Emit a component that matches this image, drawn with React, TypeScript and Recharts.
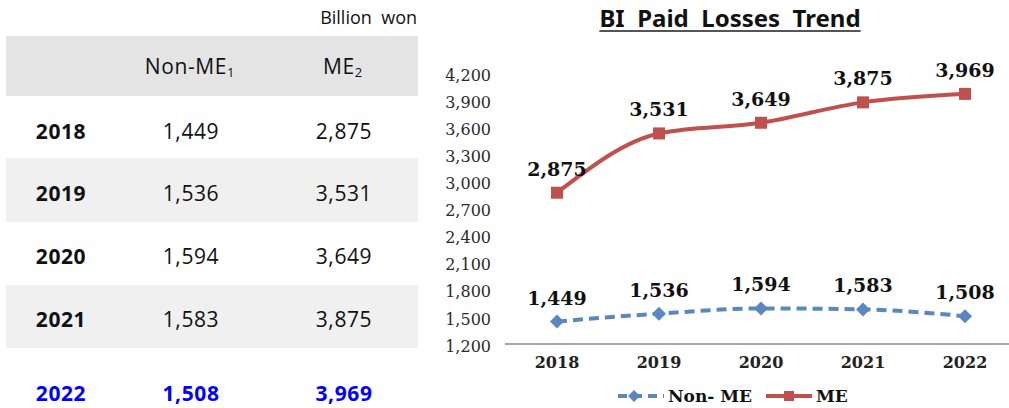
import React from "react"
import { LineChart, Line, XAxis, YAxis, LabelList } from "recharts"

const years = ["2018", "2019", "2020", "2021", "2022"]
const nonMe = [1449, 1536, 1594, 1583, 1508]
const me = [2875, 3531, 3649, 3875, 3969]
const yTicks = [1200, 1500, 1800, 2100, 2400, 2700, 3000, 3300, 3600, 3900, 4200]

const data = years.map((year, i) => ({ year, nonMe: nonMe[i], me: me[i] }))

const fmt = (v: number) => v.toLocaleString("en-US")

const RED = "#c0504d"
const BLUE = "#5b87c0"
const SERIF = "'DejaVu Serif', serif"
const SANS = "'Open Sans', sans-serif"

function SquareDot(props: any) {
  const { cx, cy } = props
  if (cx == null || cy == null) return null
  return <rect x={cx - 6} y={cy - 6} width={12} height={12} fill={RED} />
}

function DiamondDot(props: any) {
  const { cx, cy } = props
  if (cx == null || cy == null) return null
  return (
    <polygon
      points={`${cx},${cy - 7} ${cx + 7},${cy} ${cx},${cy + 7} ${cx - 7},${cy}`}
      fill={BLUE}
    />
  )
}

// table text centres
const rowCenters = [131, 193, 256, 319, 393]
const shadedRows = [[158, 222], [285, 348]]

function Table() {
  const cell = (text: React.ReactNode, x: number, y: number, style: React.CSSProperties = {}) => (
    <div
      style={{
        position: "absolute",
        left: x - 80,
        width: 160,
        top: y - 15,
        height: 30,
        lineHeight: "30px",
        textAlign: "center",
        fontFamily: SANS,
        fontSize: 21,
        letterSpacing: 0.6,
        color: "#111",
        ...style,
      }}
    >
      {text}
    </div>
  )
  return (
    <>
      <div
        style={{
          position: "absolute",
          right: 1009 - 417,
          top: 5,
          fontFamily: SANS,
          fontSize: 18,
          whiteSpace: "pre",
          color: "#111",
        }}
      >
        {"Billion  won"}
      </div>
      <div style={{ position: "absolute", left: 6, top: 36, width: 412, height: 60, background: "#e4e4e4" }} />
      {shadedRows.map(([a, b]) => (
        <div key={a} style={{ position: "absolute", left: 6, top: a, width: 412, height: b - a, background: "#f0f0f0" }} />
      ))}
      {cell(<span>Non-ME<sub style={{ fontSize: 13, verticalAlign: "-3px" }}>1</sub></span>, 190, 66)}
      {cell(<span>ME<sub style={{ fontSize: 13, verticalAlign: "-3px" }}>2</sub></span>, 343, 66)}
      {years.map((y, i) => {
        const last = i === years.length - 1
        const color = last ? "#0000ff" : "#111"
        const weight = last ? 700 : 400
        return (
          <React.Fragment key={y}>
            {cell(y, 61, rowCenters[i], { fontWeight: 700, color })}
            {cell(fmt(nonMe[i]), 191, rowCenters[i], { fontWeight: weight, color })}
            {cell(fmt(me[i]), 344, rowCenters[i], { fontWeight: weight, color })}
          </React.Fragment>
        )
      })}
    </>
  )
}

function LegendBox() {
  const txt: React.CSSProperties = { fontFamily: SERIF, fontWeight: 700, fontSize: 17, color: "#111" }
  return (
    <div style={{ position: "absolute", left: 616, top: 385, display: "flex", alignItems: "center", height: 22 }}>
      <svg width={50} height={16}>
        <line x1={2} y1={8} x2={48} y2={8} stroke={BLUE} strokeWidth={4} strokeDasharray="9 6" />
        <polygon points="18,2 24,8 18,14 12,8" fill={BLUE} />
      </svg>
      <span style={{ ...txt, marginLeft: 2, whiteSpace: "pre" }}>{"Non- ME"}</span>
      <svg width={50} height={16} style={{ marginLeft: 12 }}>
        <line x1={2} y1={8} x2={48} y2={8} stroke={RED} strokeWidth={4} />
        <rect x={20} y={3} width={10} height={10} fill={RED} />
      </svg>
      <span style={{ ...txt, marginLeft: 2 }}>ME</span>
    </div>
  )
}

export default function App() {
  return (
    <div style={{ position: "absolute", left: 0, top: 0, width: 1009, height: 408, background: "#fff", overflow: "hidden" }}>
      <Table />
      <div
        style={{
          position: "absolute",
          left: 420,
          width: 620,
          top: 1,
          textAlign: "center",
          fontFamily: "'Noto Sans', sans-serif",
          fontWeight: 700,
          fontSize: 24,
          whiteSpace: "pre",
          color: "#111",
          textDecoration: "underline",
          textDecorationThickness: 2,
          textUnderlineOffset: 3,
          textDecorationColor: "#555",
        }}
      >
        {"BI  Paid  Losses  Trend"}
      </div>
      <div style={{ position: "absolute", left: 420, top: 0 }}>
        <LineChart width={589} height={408} data={data} margin={{ top: 73, right: 0, bottom: 34, left: 0 }}>
          <XAxis
            dataKey="year"
            padding={{ left: 52, right: 44 }}
            axisLine={{ stroke: "#888", strokeWidth: 1.5 }}
            tickLine={false}
            tickMargin={7}
            height={30}
            tick={{ fontFamily: SERIF, fontWeight: 700, fontSize: 16, fill: "#222" }}
          />
          <YAxis
            domain={[1200, 4200]}
            ticks={yTicks}
            width={85}
            interval={0}
            axisLine={false}
            tickLine={false}
            tickMargin={8}
            tickFormatter={fmt}
            tick={{ fontFamily: SERIF, fontSize: 16, fill: "#2a2a2a", dy: 2 }}
          />
          <Line
            type="monotone"
            dataKey="me"
            stroke={RED}
            strokeWidth={4}
            dot={<SquareDot />}
            activeDot={false}
            isAnimationActive={false}
          >
            <LabelList
              dataKey="me"
              position="top"
              offset={17}
              formatter={(v: any) => fmt(Number(v))}
              style={{ fontFamily: SERIF, fontWeight: 700, fontSize: 19, fill: "#111" }}
            />
          </Line>
          <Line
            type="monotone"
            dataKey="nonMe"
            stroke={BLUE}
            strokeWidth={4}
            strokeDasharray="10 6"
            dot={<DiamondDot />}
            activeDot={false}
            isAnimationActive={false}
          >
            <LabelList
              dataKey="nonMe"
              position="top"
              offset={17}
              formatter={(v: any) => fmt(Number(v))}
              style={{ fontFamily: SERIF, fontWeight: 700, fontSize: 19, fill: "#111" }}
            />
          </Line>
        </LineChart>
      </div>
      <LegendBox />
    </div>
  )
}
